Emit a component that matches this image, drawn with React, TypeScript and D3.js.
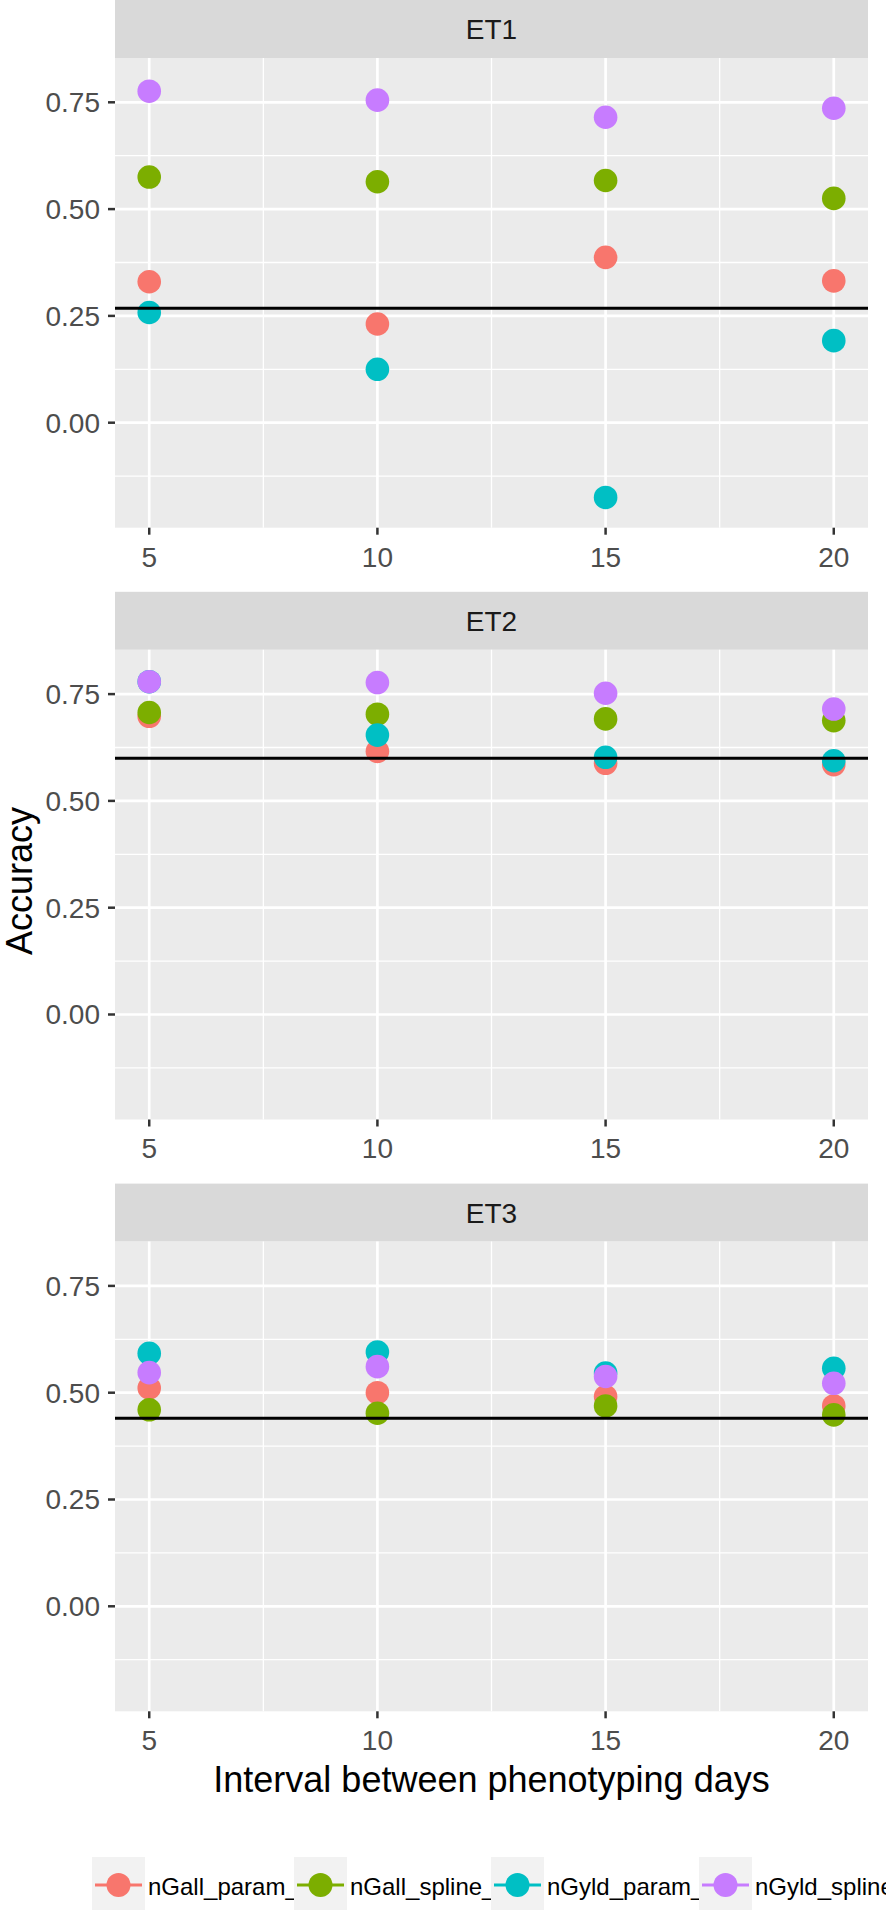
import { useEffect } from "react";
import * as d3 from "d3";

// data
const intervals = [5, 10, 15, 20];
const environments = ["ET1", "ET2", "ET3"];
const methods = ["nGall_param_", "nGall_spline_", "nGyld_param_", "nGyld_spline_"];
const methodColors = ["#F8766D", "#7CAE00", "#00BFC4", "#C77CFF"];

const et1NGallParam = [0.330, 0.231, 0.387, 0.332];
const et1NGallSpline = [0.575, 0.564, 0.567, 0.525];
const et1NGyldParam = [0.258, 0.125, -0.175, 0.192];
const et1NGyldSpline = [0.776, 0.755, 0.715, 0.736];

const et2NGallParam = [0.698, 0.616, 0.588, 0.585];
const et2NGallSpline = [0.707, 0.703, 0.692, 0.688];
const et2NGyldParam = [0.779, 0.654, 0.602, 0.594];
const et2NGyldSpline = [0.779, 0.777, 0.752, 0.715];

const et3NGallParam = [0.511, 0.500, 0.491, 0.469];
const et3NGallSpline = [0.460, 0.452, 0.469, 0.448];
const et3NGyldParam = [0.592, 0.595, 0.546, 0.557];
const et3NGyldSpline = [0.547, 0.561, 0.538, 0.522];

const baselines = [0.268, 0.600, 0.440];

const yTicks = [0, 0.25, 0.5, 0.75];
const yMinor = [-0.125, 0.125, 0.375, 0.625];
const xTicks = [5, 10, 15, 20];
const xMinor = [7.5, 12.5, 17.5];

const panelValues = [
  [et1NGallParam, et1NGallSpline, et1NGyldParam, et1NGyldSpline],
  [et2NGallParam, et2NGallSpline, et2NGyldParam, et2NGyldSpline],
  [et3NGallParam, et3NGallSpline, et3NGyldParam, et3NGyldSpline],
];

const W = 886, H = 1910;
const FONT = "'Liberation Sans', Arial, Helvetica, sans-serif";
const plotL = 115, plotR = 868;
const stripH = 58, panelH = 469.7, facetStep = 591.8;
const legendKeyX = [92, 294, 491, 699];
const legendY = 1857, keySize = 53;

export default function App() {
  useEffect(() => { document.body.style.margin = "0"; }, []);

  const x = d3.scaleLinear().domain([4.25, 20.75]).range([plotL, plotR]);
  const y = d3.scaleLinear().domain([-0.2458, 0.8537]).range([panelH, 0]);

  return (
    <svg width={W} height={H} style={{ display: "block", background: "#fff" }} fontFamily={FONT}>
      {environments.map((env, pi) => {
        const top = pi * facetStep;
        const pTop = top + stripH;
        return (
          <g key={env}>
            {/* strip */}
            <rect x={plotL} y={top} width={plotR - plotL} height={stripH} fill="#D9D9D9" />
            <text x={(plotL + plotR) / 2} y={top + stripH / 2 + 10} textAnchor="middle" fontSize={28} fill="#1A1A1A">{env}</text>
            <g transform={`translate(0,${pTop})`}>
              <rect x={plotL} y={0} width={plotR - plotL} height={panelH} fill="#EBEBEB" />
              {yMinor.map((t) => (
                <line key={`ym${t}`} x1={plotL} x2={plotR} y1={y(t)} y2={y(t)} stroke="#fff" strokeWidth={1.3} />
              ))}
              {xMinor.map((t) => (
                <line key={`xm${t}`} x1={x(t)} x2={x(t)} y1={0} y2={panelH} stroke="#fff" strokeWidth={1.3} />
              ))}
              {yTicks.map((t) => (
                <line key={`yg${t}`} x1={plotL} x2={plotR} y1={y(t)} y2={y(t)} stroke="#fff" strokeWidth={2.7} />
              ))}
              {xTicks.map((t) => (
                <line key={`xg${t}`} x1={x(t)} x2={x(t)} y1={0} y2={panelH} stroke="#fff" strokeWidth={2.7} />
              ))}
              {/* points: drawn in factor order */}
              {panelValues[pi].map((vals, mi) =>
                vals.map((v, i) => (
                  <circle key={`${mi}-${i}`} cx={x(intervals[i])} cy={y(v)} r={11.8} fill={methodColors[mi]} />
                ))
              )}
              <line x1={plotL} x2={plotR} y1={y(baselines[pi])} y2={y(baselines[pi])} stroke="#000" strokeWidth={3} />
              {/* y axis */}
              {yTicks.map((t) => (
                <g key={`yt${t}`}>
                  <line x1={plotL - 7} x2={plotL} y1={y(t)} y2={y(t)} stroke="#333" strokeWidth={2.5} />
                  <text x={plotL - 15} y={y(t) + 10} textAnchor="end" fontSize={28} fill="#4D4D4D">{t.toFixed(2)}</text>
                </g>
              ))}
              {/* x axis */}
              {xTicks.map((t) => (
                <g key={`xt${t}`}>
                  <line x1={x(t)} x2={x(t)} y1={panelH} y2={panelH + 7} stroke="#333" strokeWidth={2.5} />
                  <text x={x(t)} y={panelH + 39} textAnchor="middle" fontSize={28} fill="#4D4D4D">{t}</text>
                </g>
              ))}
            </g>
          </g>
        );
      })}

      {/* axis titles */}
      <text x={(plotL + plotR) / 2} y={1792} textAnchor="middle" fontSize={36} fill="#000">Interval between phenotyping days</text>
      <text transform={`translate(32,881) rotate(-90)`} textAnchor="middle" fontSize={36} fill="#000">Accuracy</text>

      {/* legend */}
      {methods.map((m, i) => (
        <g key={m} transform={`translate(${legendKeyX[i]},${legendY})`}>
          <rect x={0} y={0} width={keySize} height={keySize} fill="#F2F2F2" />
          <line x1={3} x2={keySize - 3} y1={28} y2={28} stroke={methodColors[i]} strokeWidth={3} />
          <circle cx={keySize / 2} cy={28} r={12} fill={methodColors[i]} />
          <text x={keySize + 3} y={38} fontSize={24} fill="#000">{m}</text>
        </g>
      ))}
    </svg>
  );
}
